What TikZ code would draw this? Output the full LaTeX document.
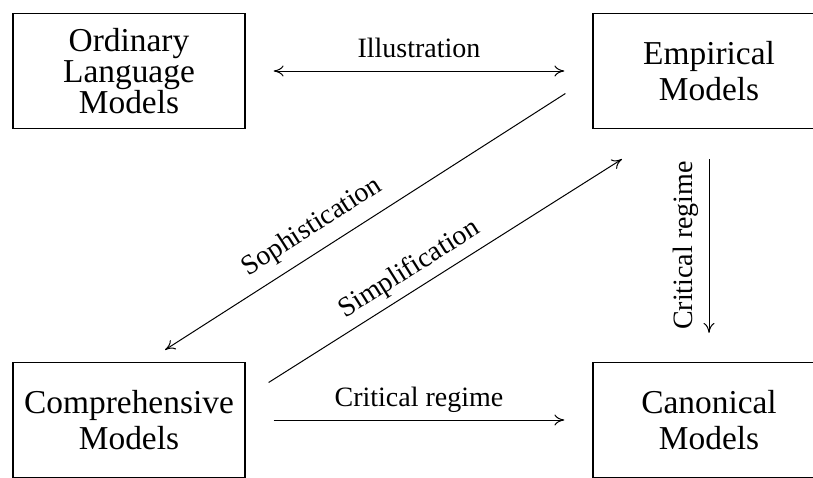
\documentclass[tikz,border=0pt]{standalone}
\usepackage{fontspec}
\setmainfont{Liberation Serif}
\usetikzlibrary{arrows.meta}

\tikzset{
  model/.style={draw, line width=0.6pt, minimum width=116pt, minimum height=57.5pt,
    align=center, font=\fontsize{16.7}{18}\selectfont},
  link/.style={line width=0.5pt, >={To[length=5pt,width=5.5pt]}},
  tag/.style={font=\fontsize{14}{16}\selectfont, text depth=3pt}
}

\begin{document}
\begin{tikzpicture}[node distance=145pt]
      \useasboundingbox (-64.5pt,35.5pt) rectangle (342pt,-203pt);

      \node [model, font=\fontsize{16.7}{15.5}\selectfont] (1) {Ordinary\\Language\\Models};
      \node [model, right of=1, xshift=145pt] (2) {Empirical\\Models};
      \node [model, below of=1, yshift=-29.5pt] (3) {Comprehensive\\Models};
      \node [model, below of=2, yshift=-29.5pt] (4) {Canonical\\Models};

      \draw[link, <->, shorten <=14pt, shorten >=14pt] (1) -- node [tag, above] {Illustration} (2);
      \draw[link, ->] ([xshift=-13.5pt, yshift=-11.25pt]2.west) -- node [tag, above=2pt, sloped, pos=0.6] {Sophistication} ([xshift=18pt, yshift=6pt]3.north);
      \draw[link, ->] ([xshift=11.5pt, yshift=18.75pt]3.east) -- node [tag, above, sloped, pos=0.43] {Simplification} ([xshift=-43.5pt, yshift=-15pt]2.south);
      \draw[link, <-, shorten <=14.5pt, shorten >=15pt] (4) -- node [tag, above=1.5pt, sloped] {Critical regime} (2);
      \draw[link, ->, shorten <=14pt, shorten >=14pt] (3) -- node [tag, above] {Critical regime} (4);
    \end{tikzpicture}
\end{document}
